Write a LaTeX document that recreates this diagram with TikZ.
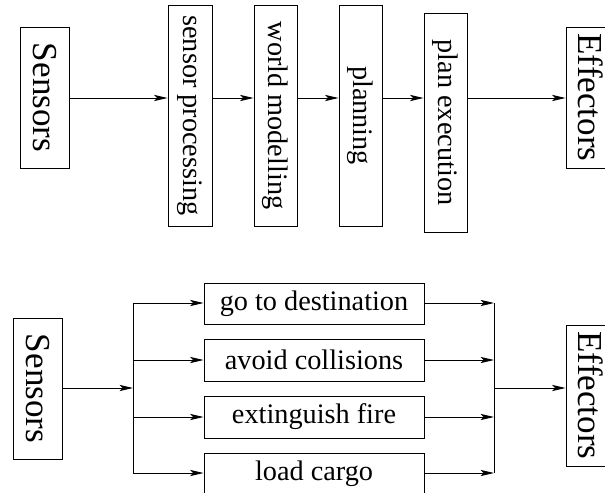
\documentclass[tikz,border=0pt]{standalone}
\usepackage{fontspec}
\setmainfont{Liberation Serif}
\usetikzlibrary{arrows.meta}
\begin{document}
\begin{tikzpicture}[x=0.75pt,y=-0.75pt,
  box/.style={draw,line width=0.7pt,inner sep=0pt,anchor=center},
  bigtxt/.style={font=\fontsize{26.3}{27}\selectfont},
  smalltxt/.style={font=\fontsize{21.2}{22}\selectfont},
  arr/.style={line width=0.7pt,-{Stealth[length=10pt,width=4.6pt,inset=2.2pt]}},
  ln/.style={line width=0.7pt}]
\useasboundingbox (0,0) rectangle (605,492);
\clip (0,0) rectangle (605,492);
% top row
\node[box,bigtxt,minimum width=36.75pt,minimum height=105.75pt] (s1) at (44.5,97.5) {\rotatebox{-90}{Sensors}};
\node[box,smalltxt,minimum width=33pt,minimum height=165.75pt] (sp) at (190,115.5) {\rotatebox{-90}{sensor processing}};
\node[box,smalltxt,minimum width=32.25pt,minimum height=165.75pt] (wm) at (275.5,115.5) {\rotatebox{-90}{world modelling}};
\node[box,smalltxt,minimum width=32.25pt,minimum height=165.75pt] (pl) at (360.5,115.5) {\rotatebox{-90}{planning}};
\node[box,smalltxt,minimum width=32.25pt,minimum height=164.25pt] (pe) at (445.5,122.5) {\rotatebox{-90}{plan execution}};
\node[box,bigtxt,minimum width=36.75pt,minimum height=105.75pt] (e1) at (590.5,97.5) {\rotatebox{-90}{Effectors}};
\draw[arr] (s1.east |- 0,98) -- (sp.west |- 0,98);
\draw[arr] (sp.east |- 0,98) -- (wm.west |- 0,98);
\draw[arr] (wm.east |- 0,98) -- (pl.west |- 0,98);
\draw[arr] (pl.east |- 0,98) -- (pe.west |- 0,98);
\draw[arr] (pe.east |- 0,98) -- (e1.west |- 0,98);
% bottom
\node[box,bigtxt,minimum width=36.75pt,minimum height=105.75pt] (s2) at (37.5,388.5) {\rotatebox{-90}{Sensors}};
\node[box,smalltxt,minimum width=165pt,minimum height=30.75pt] (b1) at (314,303.5) {go to destination};
\node[box,smalltxt,minimum width=165pt,minimum height=31.5pt] (b2) at (314,360) {avoid collisions};
\node[box,smalltxt,minimum width=165pt,minimum height=31.5pt] (b3) at (314,417) {extinguish fire};
\node[box,smalltxt,minimum width=165pt,minimum height=31.5pt] (b4) at (314,474) {load cargo};
\node[box,bigtxt,minimum width=36.75pt,minimum height=105.75pt] (e2) at (590.5,395.5) {\rotatebox{-90}{Effectors}};
\coordinate (jl) at (133,388);
\coordinate (jr) at (494,388);
\coordinate (jlt) at (133,303);
\coordinate (jlb) at (133,473);
\coordinate (jrt) at (494,303);
\coordinate (jrb) at (494,473);
\draw[ln] (jlt) -- (jlb);
\draw[ln] (jrt) -- (jrb);
\draw[arr] (s2.east |- jl) -- (jl);
\draw[arr] (jlt) -- (b1.west |- jlt);
\draw[arr] (133,360) -- (b2.west |- 0,360);
\draw[arr] (133,417) -- (b3.west |- 0,417);
\draw[arr] (jlb) -- (b4.west |- jlb);
\draw[arr] (b1.east |- jrt) -- (jrt);
\draw[arr] (b2.east |- 0,360) -- (494,360);
\draw[arr] (b3.east |- 0,417) -- (494,417);
\draw[arr] (b4.east |- jrb) -- (jrb);
\draw[arr] (jr) -- (e2.west |- jr);
\end{tikzpicture}
\end{document}
